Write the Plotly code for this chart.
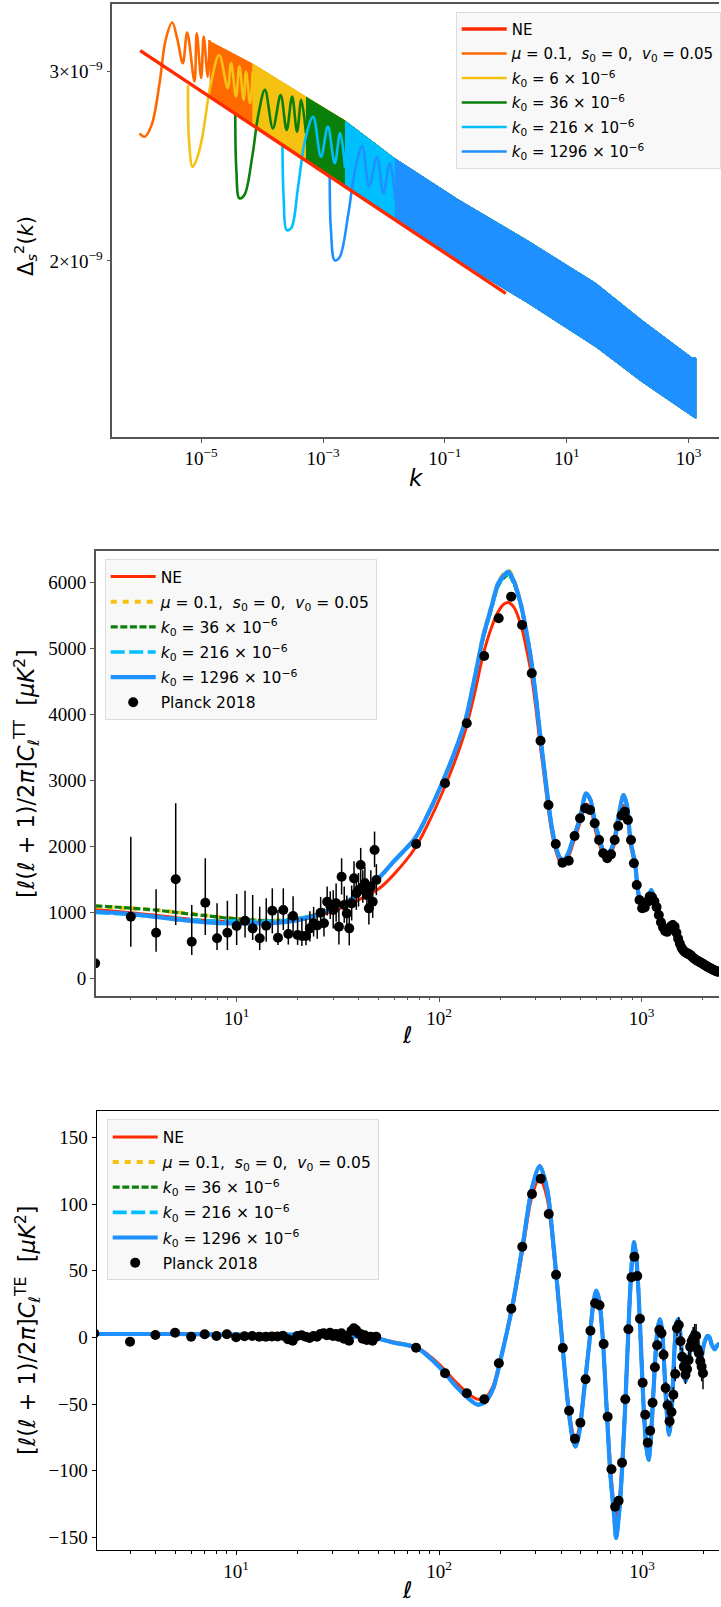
import plotly.graph_objects as go

W, H = 721, 1607

# ---------------- Panel 1: primordial spectrum (values in units of 1e-9) ----------------
ne_k = [1.0e-6, 1.0]
ne_p = [3.137, 1.866]

orange_k = [9.77e-7, 1.18e-6, 1.54e-6, 2.08e-6, 2.61e-6, 3.35e-6, 4.09e-6, 5.0e-6,
            5.90e-6, 7.76e-6, 8.47e-6, 1.0e-5, 1.10e-5, 1.28e-5, 1.37e-5]
orange_p = [2.628, 2.609, 2.676, 2.928, 3.209, 3.331, 3.209, 3.054,
            3.260, 2.936, 3.255, 2.958, 3.232, 2.967, 3.209]

yellow_k = [6.08e-6, 6.31e-6, 7.23e-6, 8.38e-6, 1.023e-5, 1.445e-5, 1.977e-5, 2.72e-5,
            3.10e-5, 3.74e-5, 4.24e-5, 4.98e-5, 5.45e-5, 6.34e-5, 7.0e-5]
yellow_p = [2.913, 2.592, 2.446, 2.483, 2.592, 2.926, 3.108, 2.895,
            3.054, 2.843, 3.033, 2.823, 3.000, 2.803, 3.000]

green_k = [3.63e-5, 3.78e-5, 4.24e-5, 5.12e-5, 6.89e-5, 8.67e-5, 1.114e-4, 1.503e-4,
           2.014e-4, 2.53e-4, 3.11e-4, 3.75e-4, 4.39e-4, 5.24e-4]
green_p = [2.740, 2.430, 2.287, 2.303, 2.500, 2.734, 2.884, 2.656,
           2.853, 2.647, 2.843, 2.637, 2.823, 2.628]

lblue_k = [2.158e-4, 2.265e-4, 2.53e-4, 3.01e-4, 3.90e-4, 5.09e-4, 6.89e-4, 9.25e-4,
           1.20e-3, 1.556e-3, 1.905e-3, 2.30e-3]
lblue_p = [2.565, 2.278, 2.137, 2.146, 2.345, 2.592, 2.723, 2.500,
           2.666, 2.465, 2.630, 2.440]

blue_k = [1.288e-3, 1.349e-3, 1.556e-3, 1.871e-3, 2.61e-3, 3.35e-3, 4.40e-3, 5.70e-3,
          7.66e-3, 9.77e-3, 1.245e-2, 1.53e-2]
blue_p = [2.398, 2.137, 2.003, 2.016, 2.215, 2.430, 2.556, 2.345,
          2.500, 2.312, 2.465, 2.278]

# envelope of the densely oscillating part (upper / lower edge of the band)
band_k = [1.38e-5, 6.92e-5, 5.25e-4, 2.29e-3, 1.51e-2, 0.166, 2.24, 30.2, 170.0, 1148.0, 1318.0]
band_upper = [3.20, 3.05, 2.84, 2.70, 2.49, 2.28, 2.09, 1.906, 1.762, 1.625, 1.625]
band_lower = [2.85, 2.68, 2.48, 2.35, 2.19, 2.00, 1.83, 1.664, 1.545, 1.435, 1.428]
band_start = {"orange": 0, "yellow": 1, "green": 2, "lblue": 3, "blue": 4}

# ---------------- Panel 2: TT ----------------
tt_ell = [2, 3, 4, 5, 7, 10, 15, 20, 25, 30, 40, 50, 60, 76, 90, 105, 120, 135, 150, 165,
          180, 196, 210, 220, 235, 255, 270, 285, 300, 315, 330, 345, 360, 377, 395, 414, 435, 464, 497, 532,
          560, 590, 622, 662, 700, 734, 770, 815, 850, 881, 929, 953, 978, 1000, 1030, 1070, 1114, 1150, 1205, 1270,
          1337, 1380, 1432, 1480, 1525, 1600, 1693, 1800, 1978, 2200, 2415]
tt_ne = [1045, 995, 955, 920, 880, 855, 850, 880, 945, 1020,
         1190, 1350, 1580, 1972, 2400, 2856, 3300, 3766, 4330, 4904,
         5290, 5561, 5680, 5700, 5620, 5333, 5000, 4626, 4120, 3564,
         3080, 2600, 2220, 1940, 1770, 1735, 1840, 2090, 2360, 2640,
         2580, 2260, 2010, 1815, 1870, 2030, 2360, 2620, 2500, 2030,
         1700, 1390, 1170, 1085, 1048, 1125, 1290, 1215, 1065, 772,
         698, 745, 830, 705, 572, 440, 373, 315, 225, 148, 91]
tt_mu = [1090, 1062, 1035, 1005, 955, 905, 875, 905, 975, 1070,
         1275, 1512, 1782, 2125, 2552, 3010, 3455, 3925, 4570, 5190,
         5615, 6005, 6145, 6190, 6030, 5650, 5260, 4835, 4305, 3720,
         3205, 2708, 2302, 2002, 1832, 1796, 1902, 2160, 2430, 2810,
         2705, 2355, 2100, 1872, 1932, 2100, 2455, 2790, 2605, 2100,
         1746, 1416, 1190, 1102, 1064, 1152, 1345, 1252, 1088, 785,
         709, 762, 862, 722, 583, 447, 380, 321, 229, 151, 92]
tt_k36 = [1100, 1065, 1035, 1000, 950, 900, 872, 902, 972, 1068,
          1272, 1508, 1778, 2118, 2545, 3000, 3440, 3905, 4540, 5150,
          5560, 5950, 6080, 6120, 5975, 5615, 5235, 4818, 4295, 3712,
          3198, 2702, 2298, 1999, 1829, 1793, 1899, 2156, 2424, 2800,
          2697, 2349, 2097, 1869, 1929, 2097, 2450, 2785, 2598, 2097,
          1743, 1414, 1187, 1099, 1061, 1149, 1340, 1249, 1085, 782,
          706, 759, 858, 719, 580, 444, 378, 319, 227, 150, 92]
tt_k216 = [1000, 968, 935, 905, 872, 868, 868, 900, 972, 1065,
           1272, 1510, 1780, 2120, 2548, 3004, 3445, 3910, 4550, 5165,
           5580, 5965, 6095, 6130, 5985, 5625, 5245, 4822, 4298, 3714,
           3199, 2703, 2299, 2000, 1830, 1794, 1900, 2157, 2426, 2803,
           2699, 2350, 2098, 1870, 1930, 2098, 2450, 2782, 2599, 2098,
           1744, 1415, 1188, 1100, 1062, 1150, 1339, 1250, 1086, 783,
           707, 760, 858, 720, 581, 445, 379, 320, 228, 150, 92]
tt_k1296 = [1010, 975, 930, 895, 850, 834, 836, 880, 960, 1060,
            1270, 1510, 1780, 2123, 2550, 3008, 3450, 3918, 4560, 5180,
            5600, 5991, 6120, 6167, 6010, 5637, 5250, 4828, 4300, 3716,
            3200, 2704, 2300, 2000, 1830, 1794, 1900, 2158, 2427, 2806,
            2700, 2351, 2098, 1870, 1930, 2098, 2450, 2780, 2600, 2098,
            1744, 1415, 1188, 1100, 1062, 1150, 1339, 1250, 1086, 783,
            707, 760, 858, 720, 581, 445, 379, 320, 228, 150, 92]

tt_low_ell = [2, 3, 4, 5, 6, 7, 8, 9, 10, 11, 12, 13, 14, 15, 16, 17, 18, 19, 20, 21, 22, 23, 24, 25,
              26, 27, 28, 29, 30, 31, 32, 33, 34, 35, 36, 37, 38, 39, 40, 41, 42, 43, 44, 45, 46, 47, 48, 49]
tt_low_D = [227, 934, 692, 1502, 555, 1147, 607, 692, 793, 874, 758, 607, 798, 1026, 616, 1036, 672, 945,
            657, 642, 642, 758, 834, 800, 995, 834, 1162, 1100, 1036, 1137, 783, 1541, 1112, 985, 758, 1137,
            1516, 1289, 1339, 1718, 1390, 1440, 1263, 1061, 1390, 1162, 1946, 1491]
tt_low_up = [530, 1214, 657, 1152, 557, 673, 530, 485, 486, 455, 506, 479, 415, 339, 420, 329, 300, 300,
             280, 270, 260, 260, 250, 240, 240, 230, 230, 220, 300, 300, 280, 280, 280, 270, 270, 270,
             260, 260, 260, 260, 250, 250, 250, 250, 250, 250, 280, 240]
tt_low_dn = [130, 454, 288, 694, 202, 490, 178, 263, 288, 253, 177, 178, 242, 344, 111, 303, 160, 250,
             150, 150, 140, 200, 200, 200, 210, 200, 210, 200, 280, 280, 270, 270, 270, 260, 260, 260,
             250, 250, 250, 250, 245, 245, 245, 245, 245, 245, 260, 230]

tt_bin_ell = [77, 107, 137, 167, 197, 227, 257, 287, 317, 347, 377, 407, 437, 467, 497, 527, 557, 587, 617, 647,
              677, 707, 737, 767, 797, 827, 857, 887, 917, 947, 977, 1007, 1037, 1067, 1097, 1127, 1157, 1187,
              1217, 1247, 1277, 1307, 1337, 1367, 1397, 1427, 1457, 1487, 1517, 1547, 1577, 1607, 1637, 1667,
              1697, 1727, 1757, 1787, 1817, 1847, 1877, 1907, 1937, 1967, 1997, 2027, 2057, 2087, 2117, 2147,
              2177, 2207, 2237, 2267, 2297, 2327, 2357, 2387]
tt_bin_D = [2037, 2958, 3868, 4888, 5460, 5788, 5359, 4626, 3604, 2629,
            2037, 1753, 1784, 2158, 2427, 2579, 2553, 2351, 2098, 1896,
            1820, 1880, 2098, 2310, 2470, 2528, 2400, 2098, 1744, 1415,
            1188, 1062, 1075, 1160, 1240, 1230, 1170, 1080, 960, 850,
            770, 720, 705, 740, 790, 810, 780, 690, 600, 525,
            465, 425, 400, 385, 375, 360, 345, 320, 300, 285,
            270, 258, 248, 236, 225, 212, 200, 188, 176, 166,
            156, 146, 137, 128, 120, 112, 105, 99]

# ---------------- Panel 3: TE ----------------
te_ell = [2, 5, 10, 20, 30, 40, 50, 60, 78, 100, 120, 140, 155, 170, 185, 200, 230, 260, 285, 313,
          340, 370, 400, 430, 455, 470, 490, 520, 550, 575, 595, 615, 640, 670, 700, 730, 745, 775, 800, 830,
          860, 890, 914, 935, 960, 990, 1020, 1050, 1078, 1100, 1130, 1160, 1190, 1223, 1250, 1280, 1310, 1340,
          1360, 1390, 1420, 1450, 1480, 1510, 1540, 1570, 1600, 1640, 1680, 1720, 1760, 1800, 1840, 1880, 1920,
          1960, 2000, 2050, 2100, 2150, 2200, 2280, 2350, 2415]
te_k1296 = [2.5, 2.5, 2.0, 2.0, 1.5, 0.5, -1, -4, -8, -22,
            -36, -46, -50.5, -48, -38, -18, 24, 72, 110, 128.5,
            112, 62, 5, -48, -76, -82, -72, -38, -4, 25,
            35, 28, 0, -55, -105, -135, -150.5, -128, -95, -45,
            12, 55, 71.5, 62, 35, -10, -55, -82, -92, -80,
            -50, -18, 5, 13.5, 8, -15, -45, -66, -73, -62,
            -35, -5, 11, 13.5, 5, -12, -25, -33, -27, -12,
            0, 5, 1, -6, -14, -16, -8, -2, 1, 0,
            -5, -9, -6, -5]
te_ne = [2.5, 2.5, 2.0, 2.0, 1.5, 0.5, -1, -3.5, -7.5, -20,
         -33, -42.5, -46.5, -45, -36, -17, 22, 68, 104, 119.5,
         105, 58, 4, -45, -71, -77, -68, -36, -4, 23,
         33, 26, 0, -51, -98, -128, -138, -120, -89, -42,
         11, 52, 67, 58, 33, -9, -52, -77, -86, -75,
         -47, -17, 5, 12.5, 7.5, -14, -42, -62, -68, -58,
         -33, -5, 10, 12.5, 5, -11, -23, -31, -25, -11,
         0, 4.5, 1, -5.5, -13, -15, -7.5, -2, 1, 0,
         -4.5, -8.5, -5.5, -4.5]
# the mu, k0=36 and k0=216 curves coincide with the k0=1296 curve in the picture
te_mu = te_k1296
te_k36 = te_k1296
te_k216 = te_k1296

te_low_ell = tt_low_ell
te_low_D = [3, -3.25, 1.75, 3.5, 0.5, 2.25, 1, 2.25, 0, 0.8,
            1, 0.5, 0.5, 0.7, 0.6, 1.2, -1.5, -2.5, 1, 1.5,
            0.5, -0.5, 1, 0.5, 2.5, 3, 1.5, 3.5, 1, 2.5,
            0.5, 3, -1, 1, -2.5, 5, 6.75, 5.5, 3, 2.5,
            -1, 1.5, -2, -1, 0.5, -2.5, 0, 0.5]
te_bin_ell = tt_bin_ell[:65]
te_bin_D = [-7.75, -27, -42, -46.5, -19.5, 21.5, 68, 107.5, 119, 92.5,
            47, -8, -55, -76, -64, -31.5, 5, 25.5, 24, -5,
            -59.5, -99, -127, -122.5, -94, -46.5, 6, 45, 60.5, 46,
            14, -34, -58, -79, -70, -49, -22.5, -6, 5.5, 3,
            -13, -38, -51, -63, -56, -43, -27.5, 6.75, 9.25, -3,
            -14.5, -22, -28, -24, -17, -7, -3, -0.75, 1, 1,
            -9, -12, -18, -22, -27]
te_bin_err = [1.5, 1.5, 1.5, 1.5, 1.5, 1.5, 2, 2, 2, 2,
              2, 2, 2, 2, 2, 2, 2, 2, 2, 2,
              2.5, 2.5, 2.5, 2.5, 2.5, 2.5, 2.5, 2.5, 2.5, 3,
              3, 3, 3, 3, 3.5, 3.5, 3.5, 4, 4, 4,
              4.5, 4.5, 5, 5, 5, 5.5, 5.5, 6, 6, 6.5,
              6.5, 7, 7, 7.5, 7.5, 8, 8, 8.5, 9, 9,
              9.5, 10, 10, 11, 12]

# ---------------- styling ----------------
RED = "#ff2a00"
ORANGE = "#ff6a00"
YELLOW = "#f5c211"
GREEN = "#0a800a"
LBLUE = "#00bfff"
BLUE = "#1e90ff"

NB = "\u00a0"
LBL_NE = "NE"
LBL_MU = f"<i>μ</i> = 0.1,{NB}{NB}<i>s</i><sub>0</sub> = 0,{NB}{NB}<i>v</i><sub>0</sub> = 0.05"
def lbl_k(v):
    return f"<i>k</i><sub>0</sub> = {v} × 10<sup>−6</sup>"

TICKF = dict(family="Liberation Serif", size=19, color="black")
LEGF1 = dict(family="DejaVu Sans", size=15, color="black")
LEGF2 = dict(family="DejaVu Sans", size=15.5, color="black")

fig = go.Figure()

# ---- panel 1 ----
p1 = [
    (LBL_MU, orange_k, orange_p, ORANGE, band_start["orange"], 2),
    (lbl_k(6), yellow_k, yellow_p, YELLOW, band_start["yellow"], 3),
    (lbl_k(36), green_k, green_p, GREEN, band_start["green"], 4),
    (lbl_k(216), lblue_k, lblue_p, LBLUE, band_start["lblue"], 5),
    (lbl_k(1296), blue_k, blue_p, BLUE, band_start["blue"], 6),
]
for name, kk, pp, col, st, rank in p1:
    bx = band_k[st:]
    fig.add_trace(go.Scatter(
        x=bx + bx[::-1], y=band_upper[st:] + band_lower[st:][::-1],
        fill="toself", fillcolor=col, mode="lines", line=dict(color=col, width=1),
        showlegend=False, hoverinfo="skip", xaxis="x", yaxis="y"))
    fig.add_trace(go.Scatter(
        x=kk, y=pp, mode="lines", name=name, legend="legend", legendrank=rank,
        legendgroup=f"a{rank}",
        line=dict(color=col, width=2.6, shape="spline", smoothing=1.0),
        xaxis="x", yaxis="y"))
fig.add_trace(go.Scatter(
    x=ne_k, y=ne_p, mode="lines", name=LBL_NE, legend="legend", legendrank=1, legendgroup="a1",
    line=dict(color=RED, width=3.4), xaxis="x", yaxis="y"))

# ---- panels 2 and 3 ----
def add_cmb(ell, ne, mu, k36, k216, k1296, xa, ya, leg, gp):
    specs = [
        (LBL_NE, ne, dict(color=RED, width=3)),
        (LBL_MU, mu, dict(color=YELLOW, width=4, dash="6px,6px")),
        (lbl_k(36), k36, dict(color=GREEN, width=3.2, dash="7px,2.6px")),
        (lbl_k(216), k216, dict(color=LBLUE, width=3.6, dash="14px,4.5px")),
        (lbl_k(1296), k1296, dict(color=BLUE, width=4.2)),
    ]
    for i, (name, vals, ln) in enumerate(specs):
        ln = dict(ln, shape="spline", smoothing=0.8)
        fig.add_trace(go.Scatter(x=ell, y=vals, mode="lines", name=name, line=ln,
                                 legend=leg, legendgroup=f"{gp}{i}", xaxis=xa, yaxis=ya))

MK = dict(color="black", size=10)
add_cmb(tt_ell, tt_ne, tt_mu, tt_k36, tt_k216, tt_k1296, "x2", "y2", "legend2", "b")
fig.add_trace(go.Scatter(
    x=tt_low_ell, y=tt_low_D, mode="markers", marker=MK,
    error_y=dict(type="data", array=tt_low_up, arrayminus=tt_low_dn, symmetric=False,
                 color="black", thickness=1.5, width=0),
    showlegend=False, xaxis="x2", yaxis="y2"))
fig.add_trace(go.Scatter(
    x=tt_bin_ell, y=tt_bin_D, mode="markers", marker=MK,
    name="Planck 2018", legend="legend2", legendgroup="b9", xaxis="x2", yaxis="y2"))

add_cmb(te_ell, te_ne, te_mu, te_k36, te_k216, te_k1296, "x3", "y3", "legend3", "c")
fig.add_trace(go.Scatter(
    x=te_low_ell, y=te_low_D, mode="markers", marker=MK,
    showlegend=False, xaxis="x3", yaxis="y3"))
fig.add_trace(go.Scatter(
    x=te_bin_ell, y=te_bin_D, mode="markers", marker=MK,
    error_y=dict(type="data", array=te_bin_err, color="black", thickness=1.5, width=0),
    name="Planck 2018", legend="legend3", legendgroup="c9", xaxis="x3", yaxis="y3"))

# ---------------- layout ----------------
def ydom(top, bot):
    return [1 - bot / H, 1 - top / H]

minor_vals = [2, 3, 4, 5, 6, 7, 8, 9, 20, 30, 40, 50, 60, 70, 80, 90,
              200, 300, 400, 500, 600, 700, 800, 900, 2000]

def xax(dom, rng, tv, tt, col, lw, minor=None, anchor="y"):
    d = dict(type="log", domain=dom, range=rng, tickvals=tv, ticktext=tt, tickfont=TICKF,
             showline=True, linecolor=col, linewidth=lw, mirror=True, ticks="outside",
             ticklen=4, tickcolor=col, showgrid=False, zeroline=False, anchor=anchor)
    if minor:
        d["minor"] = dict(tickmode="array", tickvals=minor, ticks="outside", ticklen=2.5,
                          tickcolor=col, showgrid=False)
    return d

def yax(dom, rng, tv, tt, col, lw, anchor, typ="linear"):
    return dict(type=typ, domain=dom, range=rng, tickvals=tv, ticktext=tt, tickfont=TICKF,
                showline=True, linecolor=col, linewidth=lw, mirror=False, ticks="outside",
                ticklen=4, tickcolor=col, showgrid=False, zeroline=False, anchor=anchor)

GRAY = "#555555"
tt_ticks = [0, 1000, 2000, 3000, 4000, 5000, 6000]
te_ticks = [-150, -100, -50, 0, 50, 100, 150]

legend_common = dict(bgcolor="#f8f8f8", bordercolor="#dcdcdc", borderwidth=1,
                     xanchor="left", yanchor="top", tracegroupgap=2, itemwidth=45)

fig.update_layout(
    width=W, height=H, margin=dict(l=0, r=0, t=0, b=0),
    paper_bgcolor="white", plot_bgcolor="white", showlegend=True,
    xaxis=xax([112.7 / W, 1], [-6.457, 3.499], [1e-5, 1e-3, 1e-1, 10, 1000],
              ["10<sup>−5</sup>", "10<sup>−3</sup>", "10<sup>−1</sup>", "10<sup>1</sup>", "10<sup>3</sup>"],
              GRAY, 1.6, anchor="y"),
    yaxis=yax(ydom(3.5, 436.7), [0.1377, 0.5403], [2, 3],
              ["2×10<sup>−9</sup>", "3×10<sup>−9</sup>"], GRAY, 1.6, "x", typ="log"),
    xaxis2=xax([96 / W, 1], [0.3039, 3.3827], [10, 100, 1000],
               ["10<sup>1</sup>", "10<sup>2</sup>", "10<sup>3</sup>"], GRAY, 1.6, minor_vals, anchor="y2"),
    yaxis2=yax(ydom(550.7, 996), [-268, 6485], tt_ticks, [str(v) for v in tt_ticks], GRAY, 1.6, "x2"),
    xaxis3=xax([97 / W, 1], [0.3130, 3.3793], [10, 100, 1000],
               ["10<sup>1</sup>", "10<sup>2</sup>", "10<sup>3</sup>"], "black", 1.3, minor_vals, anchor="y3"),
    yaxis3=yax(ydom(1111, 1550), [-159.5, 169.75], te_ticks,
               [str(v).replace("-", "−") for v in te_ticks], "black", 1.3, "x3"),
    legend=dict(legend_common, font=LEGF1, x=457 / W, y=1 - 11.7 / H),
    legend2=dict(legend_common, font=LEGF2, x=105 / W, y=1 - 559 / H),
    legend3=dict(legend_common, font=LEGF2, x=107 / W, y=1 - 1119.3 / H),
)

def ann(text, px, py, size, angle=0):
    fig.add_annotation(text=text, x=px / W, y=1 - py / H, xref="paper", yref="paper",
                       showarrow=False, textangle=angle, xanchor="center", yanchor="middle",
                       font=dict(family="DejaVu Sans", size=size, color="black"))

ann("Δ<sub><i>s</i></sub><sup>2</sup>(<i>k</i>)", 25, 246, 21, -90)
ann("<i>k</i>", 418, 478, 23)
ann("[<i>ℓ</i>(<i>ℓ</i> + 1)/2<i>π</i>]<i>C</i><sub><i>ℓ</i></sub><sup>TT</sup>" + NB + NB + "[<i>μK</i><sup>2</sup>]",
    27, 773, 22.5, -90)
ann("<i>ℓ</i>", 409, 1035, 23)
ann("[<i>ℓ</i>(<i>ℓ</i> + 1)/2<i>π</i>]<i>C</i><sub><i>ℓ</i></sub><sup>TE</sup>" + NB + NB + "[<i>μK</i><sup>2</sup>]",
    27, 1330, 22.5, -90)
ann("<i>ℓ</i>", 409, 1590, 23)

fig.write_html("out.html")
